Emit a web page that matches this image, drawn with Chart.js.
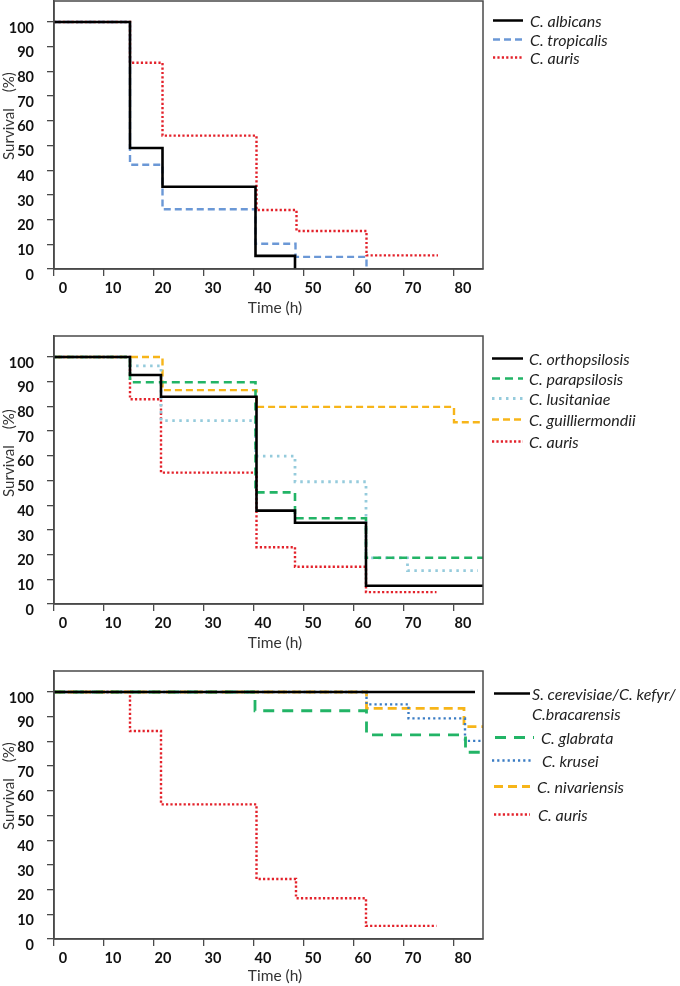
<!DOCTYPE html>
<html>
<head>
<meta charset="utf-8">
<script src="https://cdn.jsdelivr.net/npm/chart.js@4.4.1/dist/chart.umd.min.js"></script>
<style>
  html, body { margin: 0; padding: 0; background: #fff; }
  #page { position: relative; width: 680px; height: 986px; overflow: hidden; font-family: Lato, "Open Sans", sans-serif; }
  #page canvas { position: absolute; left: 0; }
  .ytitle { position: absolute; left: 8px; transform: translate(-50%, -50%) rotate(-90deg); white-space: nowrap; font-size: 15px; color: #333; }
  .ytitle .gap { display: inline-block; width: 16px; }
  .xtitle { position: absolute; transform: translate(-50%, -50%); white-space: nowrap; font-size: 15.5px; color: #333; }
  .key { position: absolute; display: flex; align-items: center; transform: translateY(-50%); white-space: nowrap; font-style: italic; font-size: 16px; color: #222; }
  .key svg { display: block; }
</style>
</head>
<body>
<div id="page">
  <canvas id="panelA" width="680" height="326"></canvas>
  <canvas id="panelB" width="680" height="326"></canvas>
  <canvas id="panelC" width="680" height="326"></canvas>
</div>
<script>
// tick labels
const timeTicks = [0, 10, 20, 30, 40, 50, 60, 70, 80];
const survivalTicks = [0, 10, 20, 30, 40, 50, 60, 70, 80, 90, 100];

// panel A: time (h) where each step happens, survival (%) after it
const albicansTime = [0, 15.2, 21.7, 40.3, 48.2];
const albicansSurv = [100, 49, 33.3, 5.3, 0];
const tropicalisTime = [0, 15.2, 21.7, 40.3, 48.3, 62.5];
const tropicalisSurv = [100, 42.2, 24.2, 10.2, 4.9, 0];
const aurisATime = [0, 15.2, 21.7, 40.5, 48.5, 62.5, 76.8];
const aurisASurv = [100, 83.5, 54, 23.9, 15.4, 5.5, 5.5];

// panel B
const orthoTime = [0, 15.2, 21.4, 40.5, 48.2, 62.4, 86];
const orthoSurv = [100, 92.7, 83.9, 37.8, 32.9, 7.4, 7.4];
const paraTime = [0, 15.2, 40.3, 48.2, 62.4, 86];
const paraSurv = [100, 89.8, 45.2, 34.7, 18.7, 18.7];
const lusiTime = [0, 15.2, 21.4, 40.3, 48.2, 62.4, 70.7, 84.8];
const lusiSurv = [100, 96.4, 74.2, 59.9, 49.5, 18.7, 13.5, 13.5];
const guilliTime = [0, 21.7, 40.5, 80, 86];
const guilliSurv = [100, 86.6, 79.8, 73.6, 73.6];
const aurisBTime = [0, 15.2, 21.4, 40.5, 48.2, 62.4, 76.5];
const aurisBSurv = [100, 82.9, 53.2, 23, 15.1, 4.8, 4.8];

// panel C
const cerevisiaeTime = [0, 84.2];
const cerevisiaeSurv = [100, 100];
const glabrataTime = [0, 40.2, 62.5, 82.3, 86];
const glabrataSurv = [100, 92.4, 82.6, 75.6, 75.6];
const kruseiTime = [0, 62.5, 70.9, 82.2, 86];
const kruseiSurv = [100, 95, 89.3, 80.2, 80.2];
const nivaTime = [0, 62.5, 82, 86];
const nivaSurv = [100, 93.4, 86, 86];
const aurisCTime = [0, 15.2, 21.4, 40.5, 48.4, 62.4, 76.5];
const aurisCSurv = [100, 84.2, 54.5, 24.3, 16.5, 5.3, 5.3];

const labelsA = ['C. albicans', 'C. tropicalis', 'C. auris'];
const labelsB = ['C. orthopsilosis', 'C. parapsilosis', 'C. lusitaniae', 'C. guilliermondii', 'C. auris'];
const labelsC = ['S. cerevisiae/C. kefyr/\nC.bracarensis', 'C. glabrata', 'C. krusei', 'C. nivariensis', 'C. auris'];

// line looks
const black = { color: '#000000', width: 2.6, dash: [] };
const red = { color: '#e3222b', width: 2.4, dash: [2.2, 2.2] };
const styleA = [black, { color: '#6b98d6', width: 2.4, dash: [7, 4] }, red];
const styleB = [
  black,
  { color: '#22b466', width: 2.6, dash: [8, 5] },
  { color: '#95cbdc', width: 2.8, dash: [2.5, 4.5] },
  { color: '#f7b519', width: 2.4, dash: [7, 4] },
  red
];
const styleC = [
  black,
  { color: '#22b466', width: 2.8, dash: [11, 8] },
  { color: '#3a7cc4', width: 2.4, dash: [2.2, 3] },
  { color: '#f7b519', width: 2.8, dash: [9, 5] },
  red
];

const PAD_TOP = 8;
const PLOT_RIGHT = 483;

function toPoints(t, s) {
  return t.map((x, i) => ({ x: x, y: s[i] }));
}

const boxPlugin = {
  id: 'box',
  afterDraw(chart) {
    const a = chart.chartArea;
    const ctx = chart.ctx;
    ctx.save();
    ctx.strokeStyle = '#4a4a4a';
    ctx.lineWidth = 1.5;
    ctx.strokeRect(a.left, a.top, a.right - a.left, a.bottom - a.top);
    ctx.restore();
  }
};

const tickFont = { family: 'Lato, "Open Sans", sans-serif', weight: 'bold', size: 14.5 };

function makeChart(id, series, labels, styles) {
  const datasets = series.map((d, i) => ({
    label: labels[i],
    data: toPoints(d[0], d[1]),
    borderColor: styles[i].color,
    borderWidth: styles[i].width,
    borderDash: styles[i].dash,
    borderCapStyle: 'butt',
    stepped: 'before',
    pointRadius: 0,
    fill: false
  }));
  return new Chart(document.getElementById(id), {
    type: 'line',
    data: { datasets: datasets },
    options: {
      responsive: false,
      animation: false,
      layout: { padding: { top: PAD_TOP, right: 680 - PLOT_RIGHT, left: 0, bottom: 0 } },
      plugins: { legend: { display: false }, tooltip: { enabled: false } },
      scales: {
        x: {
          type: 'linear', min: 0, max: 85.8,
          afterBuildTicks: s => { s.ticks = timeTicks.map(v => ({ value: v })); },
          afterFit: s => { s.height = 50; s.paddingLeft = 0; s.paddingRight = 0; },
          grid: { drawOnChartArea: false, tickLength: 7, color: '#4a4a4a', lineWidth: 1.3 },
          border: { color: '#4a4a4a', width: 1.5 },
          ticks: { padding: 4, labelOffset: 9, maxRotation: 0, font: tickFont, color: '#111' }
        },
        y: {
          type: 'linear', min: 0, max: 108.5,
          afterBuildTicks: s => { s.ticks = survivalTicks.map(v => ({ value: v })); },
          afterFit: s => { s.width = 54; s.paddingTop = 0; s.paddingBottom = 0; },
          grid: { drawOnChartArea: false, tickLength: 7, color: '#4a4a4a', lineWidth: 1.3 },
          border: { color: '#4a4a4a', width: 1.5 },
          ticks: { padding: 13, labelOffset: 6, font: tickFont, color: '#111' }
        }
      }
    },
    plugins: [boxPlugin]
  });
}

function placeCanvas(id, plotTop) {
  document.getElementById(id).style.top = (plotTop - PAD_TOP) + 'px';
}

const page = document.getElementById('page');

function addTitles(yCenter, xCenterY) {
  const yt = document.createElement('div');
  yt.className = 'ytitle';
  yt.style.top = yCenter + 'px';
  yt.innerHTML = 'Survival<span class="gap"></span>(%)';
  page.appendChild(yt);
  const xt = document.createElement('div');
  xt.className = 'xtitle';
  xt.style.left = '275px';
  xt.style.top = xCenterY + 'px';
  xt.textContent = 'Time (h)';
  page.appendChild(xt);
}

function addKey(x, y, sampleW, gap, style, text) {
  const row = document.createElement('div');
  row.className = 'key';
  row.style.left = x + 'px';
  row.style.top = y + 'px';
  if (style) {
    const ns = 'http://www.w3.org/2000/svg';
    const svg = document.createElementNS(ns, 'svg');
    svg.setAttribute('width', sampleW);
    svg.setAttribute('height', 8);
    const ln = document.createElementNS(ns, 'line');
    ln.setAttribute('x1', 0); ln.setAttribute('x2', sampleW);
    ln.setAttribute('y1', 4); ln.setAttribute('y2', 4);
    ln.setAttribute('stroke', style.color);
    ln.setAttribute('stroke-width', style.width);
    if (style.dash.length) ln.setAttribute('stroke-dasharray', style.dash.join(' '));
    svg.appendChild(ln);
    row.appendChild(svg);
  }
  const span = document.createElement('span');
  span.style.marginLeft = gap + 'px';
  span.textContent = text;
  row.appendChild(span);
  page.appendChild(row);
}

// panel A
placeCanvas('panelA', 1);
makeChart('panelA', [[albicansTime, albicansSurv], [tropicalisTime, tropicalisSurv], [aurisATime, aurisASurv]], labelsA, styleA);
addTitles(116, 307);
[20, 39, 57].forEach((y, i) => addKey(493, y, 30, 7, styleA[i], labelsA[i]));

// panel B
placeCanvas('panelB', 336);
makeChart('panelB', [[orthoTime, orthoSurv], [paraTime, paraSurv], [lusiTime, lusiSurv], [guilliTime, guilliSurv], [aurisBTime, aurisBSurv]], labelsB, styleB);
addTitles(453, 642);
[358, 378, 398, 419, 441].forEach((y, i) => addKey(492, y, 31, 6, styleB[i], labelsB[i]));

// panel C
placeCanvas('panelC', 671);
makeChart('panelC', [[cerevisiaeTime, cerevisiaeSurv], [glabrataTime, glabrataSurv], [kruseiTime, kruseiSurv], [nivaTime, nivaSurv], [aurisCTime, aurisCSurv]], labelsC.map(l => l.replace('\n', '')), styleC);
addTitles(786, 975);
const keyC = [
  { y: 693, x: 494, w: 36, gap: 2 },
  { y: 737, x: 495, w: 39, gap: 7 },
  { y: 760, x: 492, w: 40, gap: 10 },
  { y: 786, x: 494, w: 36, gap: 7 },
  { y: 814, x: 494, w: 36, gap: 8 }
];
keyC.forEach((k, i) => {
  const parts = labelsC[i].split('\n');
  addKey(k.x, k.y, k.w, k.gap, styleC[i], parts[0]);
  if (parts[1]) addKey(k.x + k.w + k.gap, k.y + 20, 0, 0, null, parts[1]);
});
</script>
</body>
</html>
